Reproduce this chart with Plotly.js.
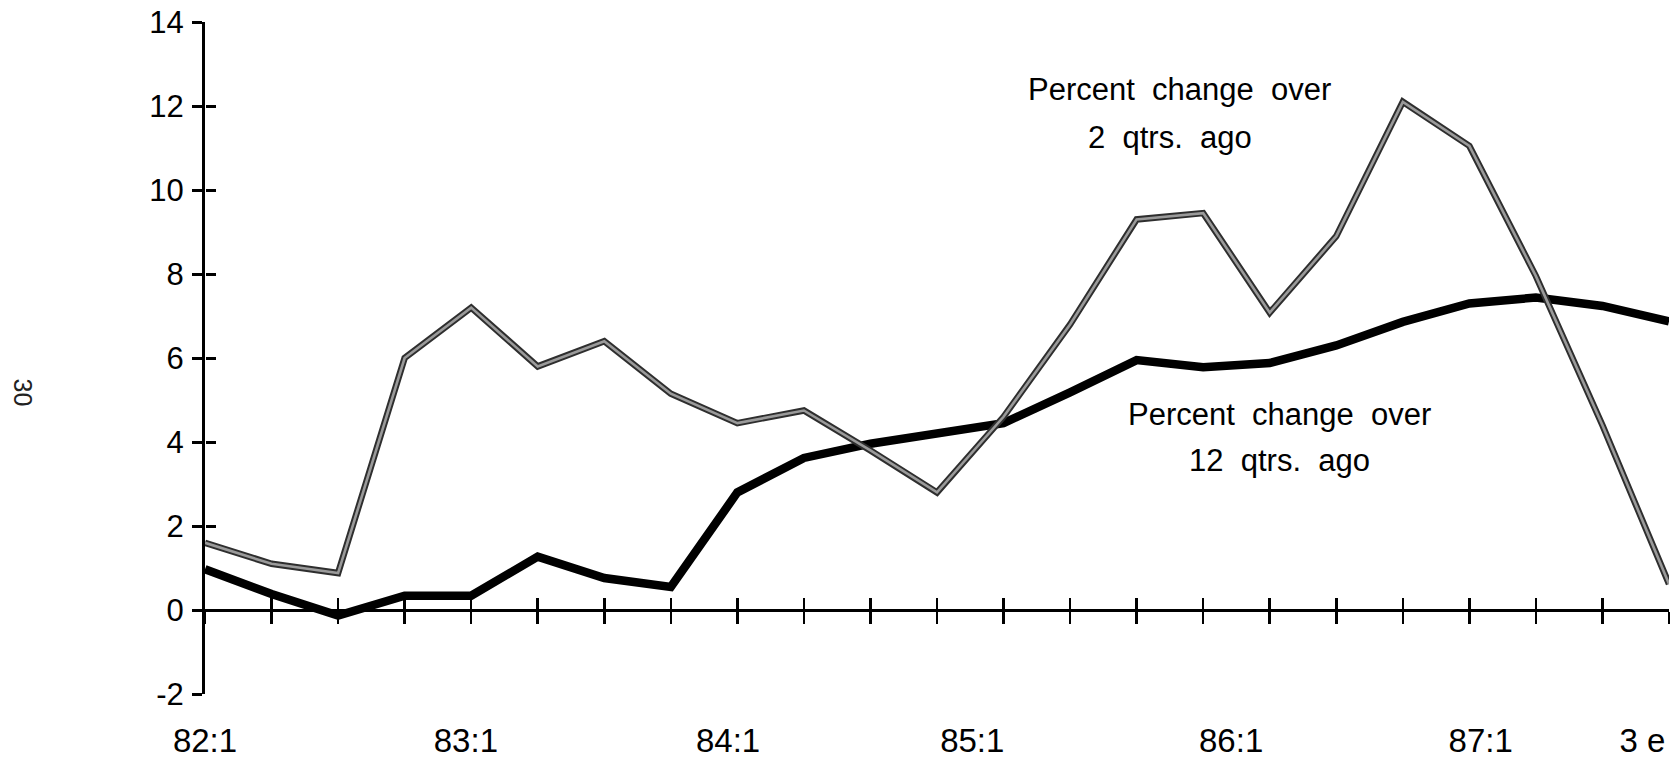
<!DOCTYPE html>
<html>
<head>
<meta charset="utf-8">
<script src="https://cdn.plot.ly/plotly-3.0.1.min.js"></script>
<style>
  html, body { margin: 0; padding: 0; background: #fff; }
  #chart { width: 1676px; height: 761px; }
</style>
</head>
<body>
<div id="chart"></div>
<script>
// Quarters 82:1 .. 87:3 (estimated)
const quarters = ['82:1','82:2','82:3','82:4','83:1','83:2','83:3','83:4',
                  '84:1','84:2','84:3','84:4','85:1','85:2','85:3','85:4',
                  '86:1','86:2','86:3','86:4','87:1','87:2','87:3'];

// Percent change over 2 quarters ago
const chg2q = [1.6, 1.1, 0.88, 6.0, 7.2, 5.8, 6.4, 5.15, 4.45, 4.75, 3.8, 2.8,
               4.6, 6.8, 9.3, 9.45, 7.08, 8.9, 12.1, 11.05, 7.95, 4.4, 0.62];

// Percent change over 12 quarters ago
const chg12q = [0.97, 0.38, -0.13, 0.34, 0.34, 1.27, 0.76, 0.55, 2.8, 3.62, 3.96, 4.18,
                4.45, 5.18, 5.95, 5.78, 5.88, 6.3, 6.86, 7.3, 7.44, 7.24, 6.87];

// Axis label texts
const xLabels = ['82:1', '83:1', '84:1', '85:1', '86:1', '87:1', '3 e'];
const yTicks = [-2, 0, 2, 4, 6, 8, 10, 12, 14];
const yTickText = yTicks.map(v => String(v));

// label placement along the quarter index scale (as printed)
const xLabelPos = [0, 3.92, 7.86, 11.53, 15.42, 19.17, 21.6];

// annotation texts
const label2qLines = ['Percent\u00a0 change\u00a0 over', '2\u00a0 qtrs.\u00a0 ago'];
const label12qLines = ['Percent\u00a0 change\u00a0 over', '12\u00a0 qtrs.\u00a0 ago'];
const pageNumber = '30';

const FONT = 'Liberation Sans, Arial, Helvetica, sans-serif';
const idx = quarters.map((q, i) => i);

const traces = [
  { x: quarters, y: chg12q, type: 'scatter', mode: 'lines', name: '12 qtrs',
    line: { color: '#000', width: 8.5 }, xaxis: 'x', yaxis: 'y' },
  { x: quarters, y: chg2q, type: 'scatter', mode: 'lines', name: '2 qtrs',
    line: { color: '#2e2e2e', width: 6.5 }, xaxis: 'x', yaxis: 'y' },
  { x: quarters, y: chg2q, type: 'scatter', mode: 'lines', name: '2 qtrs inner',
    line: { color: '#9a9a9a', width: 2.6 }, xaxis: 'x', yaxis: 'y' },
  // carrier traces for the overlay axes (no visible marks)
  { x: idx, y: chg2q, type: 'scatter', mode: 'lines', line: { width: 0 }, opacity: 0,
    xaxis: 'x2', yaxis: 'y2' },
  { x: idx, y: chg2q, type: 'scatter', mode: 'lines', line: { width: 0 }, opacity: 0,
    xaxis: 'x3', yaxis: 'y' }
];

const yRange = [-2, 14];
const zeroPos = (0 - yRange[0]) / (yRange[1] - yRange[0]);

const annFont = { family: FONT, size: 31, color: '#000' };

const layout = {
  width: 1676, height: 761,
  margin: { l: 205, r: 7, t: 22, b: 67 },
  paper_bgcolor: '#fff', plot_bgcolor: '#fff',
  showlegend: false,
  font: { family: FONT, color: '#000' },
  xaxis: {
    type: 'category', categoryarray: quarters, categoryorder: 'array',
    range: [0, 22], anchor: 'free', position: zeroPos,
    showline: true, linecolor: '#000', linewidth: 2.5,
    ticks: 'outside', ticklen: 12, tickwidth: 2.5, tickcolor: '#000',
    showticklabels: false, showgrid: false, zeroline: false, fixedrange: true
  },
  xaxis2: {
    overlaying: 'x', range: [0, 22], anchor: 'free', position: zeroPos,
    tick0: 0, dtick: 1, showline: false,
    ticks: 'inside', ticklen: 12, tickwidth: 2.5, tickcolor: '#000',
    showticklabels: false, showgrid: false, zeroline: false, fixedrange: true
  },
  xaxis3: {
    overlaying: 'x', range: [0, 22], anchor: 'y', side: 'bottom',
    tickmode: 'array', tickvals: xLabelPos, ticktext: xLabels,
    ticks: '', showline: false, showgrid: false, zeroline: false,
    ticklabelstandoff: 24,
    tickfont: { family: FONT, size: 33, color: '#000' }, fixedrange: true
  },
  yaxis: {
    range: yRange, tickmode: 'array', tickvals: yTicks, ticktext: yTickText,
    showline: true, linecolor: '#000', linewidth: 3,
    ticks: 'outside', ticklen: 10, tickwidth: 3, tickcolor: '#000',
    ticklabelstandoff: 2,
    tickfont: { family: FONT, size: 31, color: '#000' },
    showgrid: false, zeroline: false, fixedrange: true
  },
  yaxis2: {
    overlaying: 'y', range: yRange, tickmode: 'array', tickvals: yTicks,
    anchor: 'free', position: 0, side: 'left',
    ticks: 'inside', ticklen: 10, tickwidth: 3, tickcolor: '#000',
    showticklabels: false, showline: false, showgrid: false, zeroline: false, fixedrange: true
  },
  annotations: [
    { text: label2qLines[0], xref: 'x3', yref: 'y', x: 14.65, y: 12.4,
      xanchor: 'center', yanchor: 'middle', showarrow: false, font: annFont },
    { text: label2qLines[1], xref: 'x3', yref: 'y', x: 14.5, y: 11.25,
      xanchor: 'center', yanchor: 'middle', showarrow: false, font: annFont },
    { text: label12qLines[0], xref: 'x3', yref: 'y', x: 16.14, y: 4.66,
      xanchor: 'center', yanchor: 'middle', showarrow: false, font: annFont },
    { text: label12qLines[1], xref: 'x3', yref: 'y', x: 16.15, y: 3.55,
      xanchor: 'center', yanchor: 'middle', showarrow: false, font: annFont },
    { text: pageNumber, xref: 'paper', yref: 'paper', x: -0.1245, y: 0.449,
      xanchor: 'center', yanchor: 'middle', textangle: 90, showarrow: false,
      font: { family: FONT, size: 25, color: '#222' } }
  ]
};

Plotly.newPlot('chart', traces, layout, { displayModeBar: false, staticPlot: true });
</script>
</body>
</html>
